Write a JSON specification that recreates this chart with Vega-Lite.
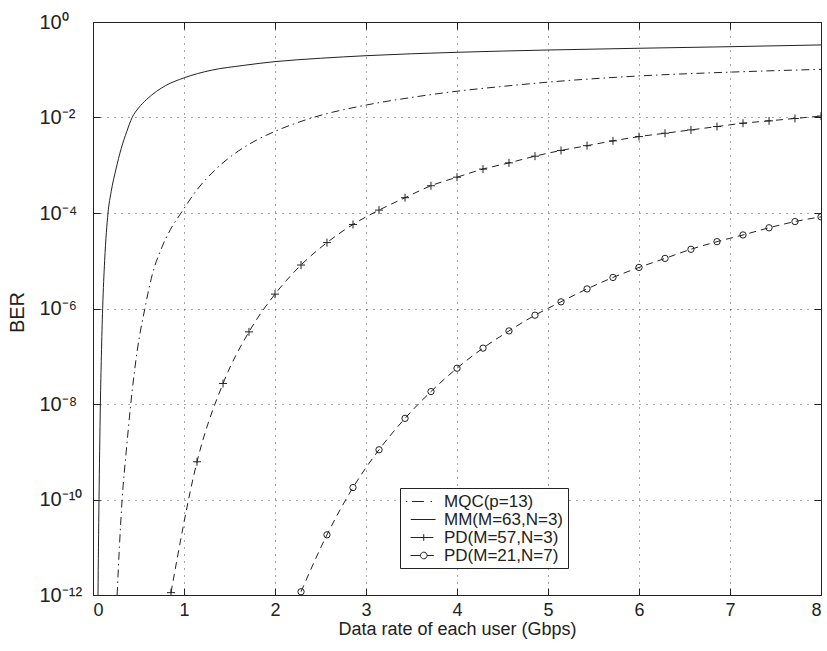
{
  "$schema": "https://vega.github.io/schema/vega-lite/v6.json",
  "width": 728,
  "height": 573,
  "autosize": {"type": "none"},
  "padding": {"left": 93, "top": 22, "right": 6, "bottom": 56},
  "background": "white",
  "config": {
    "font": "Liberation Sans",
    "view": {"stroke": "#222", "strokeWidth": 1},
    "axis": {"labelFont": "Liberation Sans", "titleFont": "Liberation Sans", "labelColor": "#222", "titleColor": "#222", "titleFontWeight": "normal", "domain": false}
  },
  "datasets": {
    "curves": [
      {"s": "MM(M=63,N=3)", "x": 0.055, "y": 1e-12},
      {"s": "MM(M=63,N=3)", "x": 0.060, "y": 1e-11},
      {"s": "MM(M=63,N=3)", "x": 0.066, "y": 1e-10},
      {"s": "MM(M=63,N=3)", "x": 0.073, "y": 1e-9},
      {"s": "MM(M=63,N=3)", "x": 0.081, "y": 1e-8},
      {"s": "MM(M=63,N=3)", "x": 0.092, "y": 1e-7},
      {"s": "MM(M=63,N=3)", "x": 0.106, "y": 1e-6},
      {"s": "MM(M=63,N=3)", "x": 0.128, "y": 1e-5},
      {"s": "MM(M=63,N=3)", "x": 0.165, "y": 1e-4},
      {"s": "MM(M=63,N=3)", "x": 0.20, "y": 2.82e-4},
      {"s": "MM(M=63,N=3)", "x": 0.25, "y": 7.94e-4},
      {"s": "MM(M=63,N=3)", "x": 0.31, "y": 2.24e-3},
      {"s": "MM(M=63,N=3)", "x": 0.37, "y": 5.01e-3},
      {"s": "MM(M=63,N=3)", "x": 0.43, "y": 1e-2},
      {"s": "MM(M=63,N=3)", "x": 0.50, "y": 1.58e-2},
      {"s": "MM(M=63,N=3)", "x": 0.59, "y": 2.40e-2},
      {"s": "MM(M=63,N=3)", "x": 0.70, "y": 3.55e-2},
      {"s": "MM(M=63,N=3)", "x": 0.80, "y": 4.68e-2},
      {"s": "MM(M=63,N=3)", "x": 1.0, "y": 6.76e-2},
      {"s": "MM(M=63,N=3)", "x": 1.3, "y": 9.77e-2},
      {"s": "MM(M=63,N=3)", "x": 1.65, "y": 0.123},
      {"s": "MM(M=63,N=3)", "x": 2.0, "y": 0.148},
      {"s": "MM(M=63,N=3)", "x": 2.5, "y": 0.174},
      {"s": "MM(M=63,N=3)", "x": 3.0, "y": 0.197},
      {"s": "MM(M=63,N=3)", "x": 4.0, "y": 0.232},
      {"s": "MM(M=63,N=3)", "x": 5.0, "y": 0.259},
      {"s": "MM(M=63,N=3)", "x": 6.0, "y": 0.282},
      {"s": "MM(M=63,N=3)", "x": 7.0, "y": 0.304},
      {"s": "MM(M=63,N=3)", "x": 8.0, "y": 0.331},
      {"s": "MQC(p=13)", "x": 0.265, "y": 1e-12},
      {"s": "MQC(p=13)", "x": 0.29, "y": 1e-11},
      {"s": "MQC(p=13)", "x": 0.32, "y": 1e-10},
      {"s": "MQC(p=13)", "x": 0.365, "y": 1e-9},
      {"s": "MQC(p=13)", "x": 0.415, "y": 1e-8},
      {"s": "MQC(p=13)", "x": 0.487, "y": 1.35e-7},
      {"s": "MQC(p=13)", "x": 0.57, "y": 1e-6},
      {"s": "MQC(p=13)", "x": 0.65, "y": 5.01e-6},
      {"s": "MQC(p=13)", "x": 0.75, "y": 1.78e-5},
      {"s": "MQC(p=13)", "x": 0.85, "y": 4.47e-5},
      {"s": "MQC(p=13)", "x": 0.975, "y": 1.05e-4},
      {"s": "MQC(p=13)", "x": 1.14, "y": 3.02e-4},
      {"s": "MQC(p=13)", "x": 1.34, "y": 7.94e-4},
      {"s": "MQC(p=13)", "x": 1.60, "y": 2.00e-3},
      {"s": "MQC(p=13)", "x": 1.80, "y": 3.39e-3},
      {"s": "MQC(p=13)", "x": 2.0, "y": 5.13e-3},
      {"s": "MQC(p=13)", "x": 2.42, "y": 1.0e-2},
      {"s": "MQC(p=13)", "x": 3.0, "y": 1.82e-2},
      {"s": "MQC(p=13)", "x": 3.5, "y": 2.63e-2},
      {"s": "MQC(p=13)", "x": 4.0, "y": 3.55e-2},
      {"s": "MQC(p=13)", "x": 4.47, "y": 4.42e-2},
      {"s": "MQC(p=13)", "x": 5.0, "y": 5.50e-2},
      {"s": "MQC(p=13)", "x": 6.0, "y": 7.41e-2},
      {"s": "MQC(p=13)", "x": 7.0, "y": 8.91e-2},
      {"s": "MQC(p=13)", "x": 8.0, "y": 0.102},
      {"s": "PD(M=57,N=3)", "x": 0.857, "y": 1.12e-12},
      {"s": "PD(M=57,N=3)", "x": 1.143, "y": 6.17e-10},
      {"s": "PD(M=57,N=3)", "x": 1.429, "y": 2.69e-8},
      {"s": "PD(M=57,N=3)", "x": 1.714, "y": 3.24e-7},
      {"s": "PD(M=57,N=3)", "x": 2.0, "y": 2.00e-6},
      {"s": "PD(M=57,N=3)", "x": 2.286, "y": 8.13e-6},
      {"s": "PD(M=57,N=3)", "x": 2.571, "y": 2.40e-5},
      {"s": "PD(M=57,N=3)", "x": 2.857, "y": 5.75e-5},
      {"s": "PD(M=57,N=3)", "x": 3.143, "y": 1.15e-4},
      {"s": "PD(M=57,N=3)", "x": 3.429, "y": 2.09e-4},
      {"s": "PD(M=57,N=3)", "x": 3.714, "y": 3.72e-4},
      {"s": "PD(M=57,N=3)", "x": 4.0, "y": 5.62e-4},
      {"s": "PD(M=57,N=3)", "x": 4.286, "y": 8.32e-4},
      {"s": "PD(M=57,N=3)", "x": 4.571, "y": 1.12e-3},
      {"s": "PD(M=57,N=3)", "x": 4.857, "y": 1.55e-3},
      {"s": "PD(M=57,N=3)", "x": 5.143, "y": 2.04e-3},
      {"s": "PD(M=57,N=3)", "x": 5.429, "y": 2.57e-3},
      {"s": "PD(M=57,N=3)", "x": 5.714, "y": 3.24e-3},
      {"s": "PD(M=57,N=3)", "x": 6.0, "y": 3.98e-3},
      {"s": "PD(M=57,N=3)", "x": 6.286, "y": 4.68e-3},
      {"s": "PD(M=57,N=3)", "x": 6.571, "y": 5.50e-3},
      {"s": "PD(M=57,N=3)", "x": 6.857, "y": 6.46e-3},
      {"s": "PD(M=57,N=3)", "x": 7.143, "y": 7.59e-3},
      {"s": "PD(M=57,N=3)", "x": 7.429, "y": 8.51e-3},
      {"s": "PD(M=57,N=3)", "x": 7.714, "y": 9.55e-3},
      {"s": "PD(M=57,N=3)", "x": 8.0, "y": 1.07e-2},
      {"s": "PD(M=21,N=7)", "x": 2.286, "y": 1.17e-12},
      {"s": "PD(M=21,N=7)", "x": 2.571, "y": 1.82e-11},
      {"s": "PD(M=21,N=7)", "x": 2.857, "y": 1.78e-10},
      {"s": "PD(M=21,N=7)", "x": 3.143, "y": 1.10e-9},
      {"s": "PD(M=21,N=7)", "x": 3.429, "y": 5.01e-9},
      {"s": "PD(M=21,N=7)", "x": 3.714, "y": 1.82e-8},
      {"s": "PD(M=21,N=7)", "x": 4.0, "y": 5.62e-8},
      {"s": "PD(M=21,N=7)", "x": 4.286, "y": 1.48e-7},
      {"s": "PD(M=21,N=7)", "x": 4.571, "y": 3.39e-7},
      {"s": "PD(M=21,N=7)", "x": 4.857, "y": 7.24e-7},
      {"s": "PD(M=21,N=7)", "x": 5.143, "y": 1.38e-6},
      {"s": "PD(M=21,N=7)", "x": 5.429, "y": 2.57e-6},
      {"s": "PD(M=21,N=7)", "x": 5.714, "y": 4.47e-6},
      {"s": "PD(M=21,N=7)", "x": 6.0, "y": 7.24e-6},
      {"s": "PD(M=21,N=7)", "x": 6.286, "y": 1.12e-5},
      {"s": "PD(M=21,N=7)", "x": 6.571, "y": 1.74e-5},
      {"s": "PD(M=21,N=7)", "x": 6.857, "y": 2.51e-5},
      {"s": "PD(M=21,N=7)", "x": 7.143, "y": 3.47e-5},
      {"s": "PD(M=21,N=7)", "x": 7.429, "y": 4.90e-5},
      {"s": "PD(M=21,N=7)", "x": 7.714, "y": 6.61e-5},
      {"s": "PD(M=21,N=7)", "x": 8.0, "y": 8.32e-5}
    ]
  },
  "data": {"name": "curves"},
  "layer": [
    {
      "transform": [{"filter": "datum.s == 'MM(M=63,N=3)'"}],
      "mark": {"type": "line", "color": "#222", "strokeWidth": 1, "clip": true, "interpolate": "monotone"},
      "encoding": {
        "x": {"field": "x", "type": "quantitative", "scale": {"domain": [0, 8], "nice": false, "zero": false},
          "axis": {"orient": "bottom", "values": [0,1,2,3,4,5,6,7,8], "labelFontSize": 18, "labelPadding": 6, "ticks": false,
            "grid": true, "gridDash": [1, 6], "gridColor": "#222", "gridOpacity": 0.8,
            "title": "Data rate of each user (Gbps)", "titleFontSize": 18, "titleY": 39, "titleBaseline": "alphabetic"}},
        "y": {"field": "y", "type": "quantitative", "scale": {"type": "log", "domain": [1e-12, 1], "nice": false},
          "axis": {"orient": "left", "values": [1e-12, 1e-10, 1e-8, 1e-6, 1e-4, 1e-2, 1], "labelFontSize": 20, "labelPadding": 54, "labelAlign": "left", "ticks": false,
            "grid": true, "gridDash": [1, 6], "gridColor": "#222", "gridOpacity": 0.8,
            "labelExpr": "datum.value > 0.5 ? '10⁰' : datum.value > 5e-3 ? '10⁻²' : datum.value > 5e-5 ? '10⁻⁴' : datum.value > 5e-7 ? '10⁻⁶' : datum.value > 5e-9 ? '10⁻⁸' : datum.value > 5e-11 ? '10⁻¹⁰' : '10⁻¹²'",
            "title": "BER", "titleFontSize": 20, "titleX": -76, "titleY": 290, "titleAngle": -90, "titleBaseline": "middle", "titleAlign": "center"}}
      }
    },
    {
      "transform": [{"filter": "datum.s == 'MQC(p=13)'"}],
      "mark": {"type": "line", "color": "#222", "strokeWidth": 1, "clip": true, "interpolate": "monotone", "strokeDash": [8, 4, 1.5, 4]},
      "encoding": {
        "x": {"field": "x", "type": "quantitative", "axis": {"orient": "top", "values": [0,1,2,3,4,5,6,7,8], "labels": false, "tickSize": -7, "tickColor": "#222", "grid": false, "title": null}},
        "y": {"field": "y", "type": "quantitative", "axis": {"orient": "right", "values": [1e-12, 1e-10, 1e-8, 1e-6, 1e-4, 1e-2, 1], "labels": false, "tickSize": -7, "tickColor": "#222", "grid": false, "title": null}}
      }
    },
    {
      "transform": [{"filter": "datum.s == 'PD(M=57,N=3)'"}],
      "mark": {"type": "line", "color": "#222", "strokeWidth": 1, "clip": true, "interpolate": "monotone", "strokeDash": [7, 5]},
      "encoding": {
        "x": {"field": "x", "type": "quantitative", "axis": {"orient": "bottom", "values": [0,1,2,3,4,5,6,7,8], "labels": false, "tickSize": -7, "tickColor": "#222", "grid": false, "title": null}},
        "y": {"field": "y", "type": "quantitative", "axis": {"orient": "left", "values": [1e-12, 1e-10, 1e-8, 1e-6, 1e-4, 1e-2, 1], "labels": false, "tickSize": -7, "tickColor": "#222", "grid": false, "title": null}}
      }
    },
    {
      "transform": [{"filter": "datum.s == 'PD(M=21,N=7)'"}],
      "mark": {"type": "line", "color": "#222", "strokeWidth": 1, "clip": true, "interpolate": "monotone", "strokeDash": [7, 5]},
      "encoding": {
        "x": {"field": "x", "type": "quantitative", "axis": null},
        "y": {"field": "y", "type": "quantitative", "axis": null}
      }
    },
    {
      "transform": [{"filter": "datum.s == 'PD(M=57,N=3)'"}],
      "mark": {"type": "point", "shape": "M-1,0H1M0,-1V1", "size": 64, "filled": false, "stroke": "#222", "strokeWidth": 1, "opacity": 1, "clip": true},
      "encoding": {
        "x": {"field": "x", "type": "quantitative", "axis": null},
        "y": {"field": "y", "type": "quantitative", "axis": null}
      }
    },
    {
      "transform": [{"filter": "datum.s == 'PD(M=21,N=7)'"}],
      "mark": {"type": "point", "shape": "circle", "size": 40, "filled": false, "stroke": "#222", "strokeWidth": 1, "opacity": 1, "clip": true},
      "encoding": {
        "x": {"field": "x", "type": "quantitative", "axis": null},
        "y": {"field": "y", "type": "quantitative", "axis": null}
      }
    },
    {
      "transform": [{"filter": "datum.x < 0"}],
      "mark": {"type": "point", "filled": false, "stroke": "#222", "opacity": 1, "clip": true},
      "encoding": {
        "x": {"field": "x", "type": "quantitative", "axis": null},
        "y": {"field": "y", "type": "quantitative", "axis": null},
        "shape": {"field": "s", "type": "nominal",
          "scale": {"domain": ["MQC(p=13)", "MM(M=63,N=3)", "PD(M=57,N=3)", "PD(M=21,N=7)"],
            "range": ["M-0.85,0H-0.7M-0.15,0H1.15M1.9,0H2.05", "M-0.3,0H2.45", "M-0.33,0H0.95M0.77,0H1.51M1.14,-0.37V0.37M1.44,0H2.2", "M-0.33,0H0.77M1.51,0A0.37,0.37 0 1 1 0.77,0A0.37,0.37 0 1 1 1.51,0M1.51,0H2.26"]},
          "legend": {"orient": "none", "legendX": 307, "legendY": 466, "title": null, "strokeColor": "#222", "fillColor": "white", "padding": 4,
            "labelFontSize": 17, "labelColor": "#222", "labelFont": "Liberation Sans", "symbolSize": 324, "symbolStrokeWidth": 1, "symbolStrokeColor": "#222",
            "symbolFillColor": "transparent", "symbolOpacity": 1, "rowPadding": 0, "labelOffset": 21, "cornerRadius": 0}}
      }
    }
  ],
  "resolve": {"axis": {"x": "independent", "y": "independent"}}
}
